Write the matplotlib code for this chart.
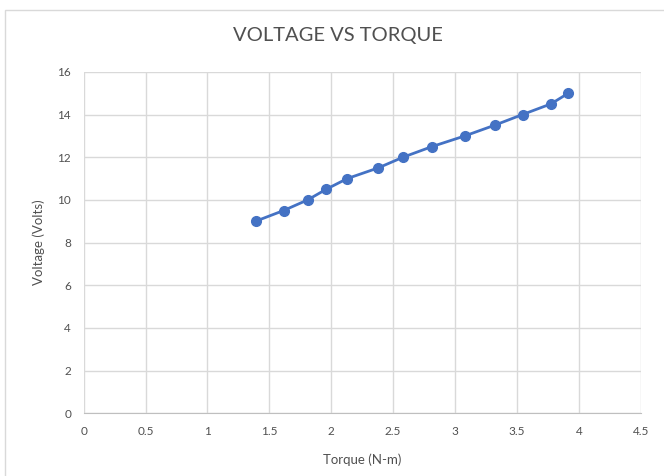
import matplotlib as mpl
import matplotlib.pyplot as plt
from matplotlib.patches import Rectangle

mpl.use("Agg")

torque = [1.39, 1.615, 1.81, 1.96, 2.13, 2.38, 2.58, 2.815, 3.08, 3.32, 3.545, 3.775, 3.915]
voltage = [9, 9.5, 10, 10.5, 11, 11.5, 12, 12.5, 13, 13.5, 14, 14.5, 15]
x_ticks = [0, 0.5, 1, 1.5, 2, 2.5, 3, 3.5, 4, 4.5]
x_tick_labels = ["0", "0.5", "1", "1.5", "2", "2.5", "3", "3.5", "4", "4.5"]
y_ticks = [0, 2, 4, 6, 8, 10, 12, 14, 16]

plt.rcParams["font.family"] = ["Lato", "DejaVu Sans"]
text_grey = "#505050"

fig = plt.figure(figsize=(6.64, 4.76), dpi=100)
ax = fig.add_axes([0.126, 0.132, 0.839, 0.717])

# chart border like the spreadsheet export
fig.patches.append(Rectangle((5 / 664, -0.1), 1.2, 1 - 10 / 476 + 0.1,
                             transform=fig.transFigure, fill=False,
                             edgecolor="#d9d9d9", linewidth=1))

ax.plot(torque, voltage, color="#4472C4", linewidth=2, marker="o",
        markersize=7, zorder=3)

ax.set_xlim(0, 4.5)
ax.set_ylim(0, 16)
ax.set_xticks(x_ticks)
ax.set_xticklabels(x_tick_labels)
ax.set_yticks(y_ticks)
ax.grid(True, color="#d9d9d9", linewidth=1)
ax.set_axisbelow(True)
for side in ["top", "right", "left"]:
    ax.spines[side].set_visible(False)
ax.spines["bottom"].set_color("#bfbfbf")
ax.tick_params(length=0, labelsize=8.5, colors=text_grey, pad=9)

fig.text(338 / 664, 1 - 36 / 476, "VOLTAGE VS TORQUE", fontsize=14.5,
         color=text_grey, ha="center", va="center")
ax.set_xlabel("Torque (N-m)", fontsize=9.5, color=text_grey, labelpad=12)
ax.set_ylabel("Voltage (Volts)", fontsize=9.5, color=text_grey, labelpad=9)

fig.savefig("out.png", dpi=100)
